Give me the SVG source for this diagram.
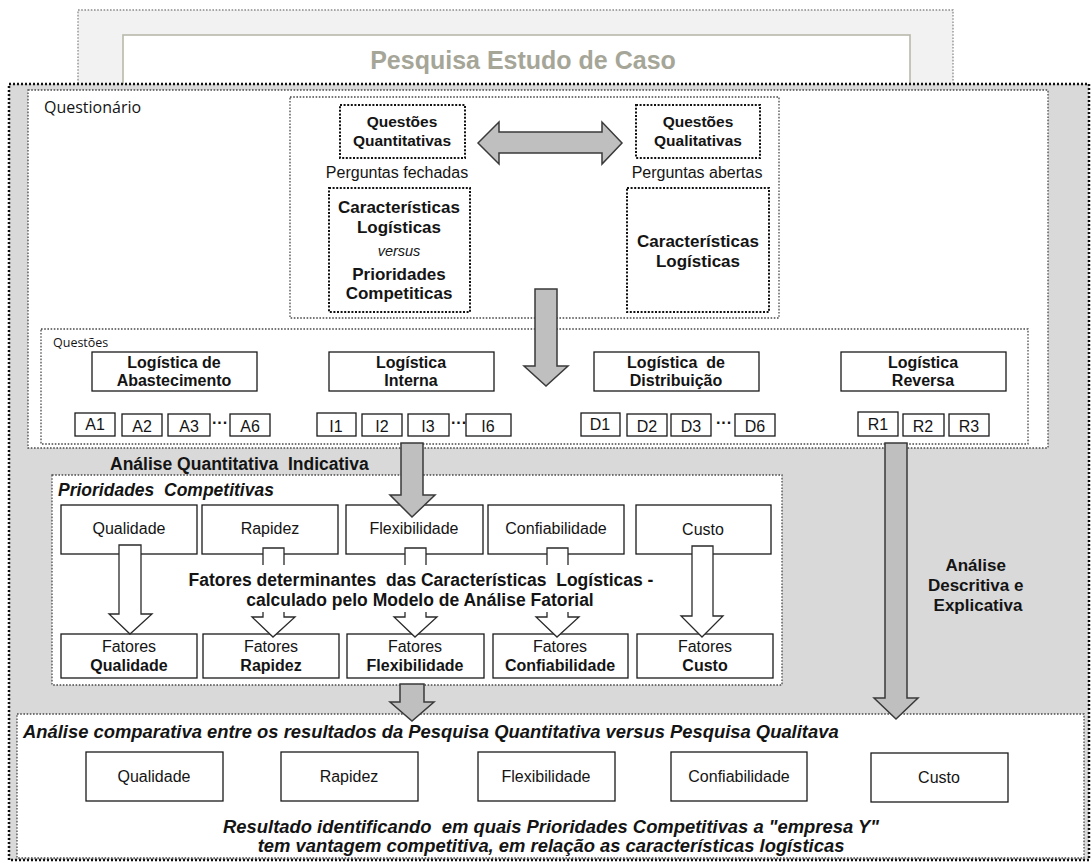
<svg xmlns="http://www.w3.org/2000/svg" width="1091" height="863" viewBox="0 0 1091 863">
  <style>
    .sans { font-family: "Liberation Sans", Arial, sans-serif; fill: #141414; }
    .b { font-weight: bold; }
    .i { font-style: italic; }
    .lbl { font-family: "Open Sans", "Liberation Sans", sans-serif; fill: #141414; }
    .box { fill: #ffffff; stroke: #1a1a1a; stroke-width: 1.3; }
    .dotk { fill: #ffffff; stroke: #111111; stroke-width: 2; stroke-dasharray: 2 1.6; }
    .dotg { fill: #ffffff; stroke: #4a4a4a; stroke-width: 1.3; stroke-dasharray: 1.6 1.6; }
    .garrow { fill: #bfbfbf; stroke: #3a3a3a; stroke-width: 1.5; stroke-linejoin: miter; }
    .warrow { fill: #ffffff; stroke: #2a2a2a; stroke-width: 1.3; }
  </style>

  <!-- title frame -->
  <g id="titulo">
    <rect x="78" y="10" width="875" height="85" fill="#f2f2f2" stroke="#8a8a8a" stroke-width="1.3" stroke-dasharray="1.6 1.6"/>
    <rect x="123" y="35" width="787" height="60" fill="#ffffff" stroke="#b8b8ab" stroke-width="1.6"/>
    <text x="523" y="69" text-anchor="middle" class="sans b" style="fill:#a6a698" font-size="25">Pesquisa Estudo de Caso</text>
  </g>

  <!-- main case-study frame -->
  <rect id="estudo" x="9" y="84" width="1080" height="776" fill="#d9d9d9" stroke="#111111" stroke-width="2.5" stroke-dasharray="2 2"/>

  <!-- questionnaire panel -->
  <g id="questionario">
    <rect x="28" y="90" width="1020" height="358" class="dotg"/>
    <text x="44" y="113" class="lbl" font-size="16">Questionário</text>
    <rect x="290" y="97" width="489" height="221" class="dotg"/>
  </g>

  <g id="quantitativas">
    <rect x="340" y="105" width="125" height="53" class="dotk"/>
    <text x="402" y="127" text-anchor="middle" class="sans b" font-size="15.5">Questões</text>
    <text x="402" y="146" text-anchor="middle" class="sans b" font-size="15.5">Quantitativas</text>
    <text x="397" y="178" text-anchor="middle" class="sans" font-size="16">Perguntas fechadas</text>
  </g>
  <g id="qualitativas">
    <rect x="636" y="105" width="124" height="53" class="dotk"/>
    <text x="698" y="127" text-anchor="middle" class="sans b" font-size="15.5">Questões</text>
    <text x="698" y="146" text-anchor="middle" class="sans b" font-size="15.5">Qualitativas</text>
    <text x="697" y="178" text-anchor="middle" class="sans" font-size="16">Perguntas abertas</text>
  </g>
  <g id="carac-quant">
    <rect x="329" y="188" width="141" height="124" class="dotk"/>
    <text x="399" y="213" text-anchor="middle" class="sans b" font-size="17">Características</text>
    <text x="399" y="233" text-anchor="middle" class="sans b" font-size="17">Logísticas</text>
    <text x="399" y="256" text-anchor="middle" class="sans i" font-size="14.5">versus</text>
    <text x="399" y="280" text-anchor="middle" class="sans b" font-size="17">Prioridades</text>
    <text x="399" y="299" text-anchor="middle" class="sans b" font-size="17">Competiticas</text>
  </g>
  <g id="carac-qual">
    <rect x="627" y="188" width="142" height="124" class="dotk"/>
    <text x="698" y="247" text-anchor="middle" class="sans b" font-size="17">Características</text>
    <text x="698" y="267" text-anchor="middle" class="sans b" font-size="17">Logísticas</text>
  </g>

  <!-- question groups -->
  <g id="questoes">
    <rect x="41" y="329" width="987" height="115" class="dotg"/>
    <text x="53" y="347" class="lbl" font-size="12.5">Questões</text>
  </g>
  <g id="abastecimento" class="sans" font-size="16">
    <rect x="92" y="352" width="165" height="39" class="box"/>
    <text x="174" y="368" text-anchor="middle" class="b">Logística de</text>
    <text x="174" y="386" text-anchor="middle" class="b">Abastecimento</text>
    <rect x="75" y="413" width="40" height="23" class="box"/><text x="95" y="430" text-anchor="middle">A1</text>
    <rect x="122" y="414" width="40" height="22" class="box"/><text x="142" y="432" text-anchor="middle">A2</text>
    <rect x="168" y="414" width="42" height="22" class="box"/><text x="189" y="432" text-anchor="middle">A3</text>
    <text x="220" y="428" text-anchor="middle" class="b">···</text>
    <rect x="230" y="414" width="40" height="22" class="box"/><text x="250" y="432" text-anchor="middle">A6</text>
  </g>
  <g id="interna" class="sans" font-size="16">
    <rect x="329" y="352" width="165" height="39" class="box"/>
    <text x="411" y="368" text-anchor="middle" class="b">Logística</text>
    <text x="411" y="386" text-anchor="middle" class="b">Interna</text>
    <rect x="317" y="413" width="39" height="23" class="box"/><text x="336" y="432" text-anchor="middle">I1</text>
    <rect x="362" y="414" width="40" height="22" class="box"/><text x="382" y="432" text-anchor="middle">I2</text>
    <rect x="408" y="414" width="41" height="22" class="box"/><text x="428" y="432" text-anchor="middle">I3</text>
    <text x="459" y="428" text-anchor="middle" class="b">···</text>
    <rect x="466" y="414" width="45" height="22" class="box"/><text x="488" y="432" text-anchor="middle">I6</text>
  </g>
  <g id="distribuicao" class="sans" font-size="16">
    <rect x="594" y="352" width="165" height="39" class="box"/>
    <text x="676" y="368" text-anchor="middle" class="b" xml:space="preserve">Logística  de</text>
    <text x="676" y="386" text-anchor="middle" class="b">Distribuição</text>
    <rect x="581" y="413" width="39" height="23" class="box"/><text x="600" y="430" text-anchor="middle">D1</text>
    <rect x="627" y="414" width="40" height="22" class="box"/><text x="647" y="432" text-anchor="middle">D2</text>
    <rect x="671" y="414" width="40" height="22" class="box"/><text x="691" y="432" text-anchor="middle">D3</text>
    <text x="724" y="428" text-anchor="middle" class="b">···</text>
    <rect x="735" y="414" width="40" height="22" class="box"/><text x="755" y="432" text-anchor="middle">D6</text>
  </g>
  <g id="reversa" class="sans" font-size="16">
    <rect x="841" y="352" width="165" height="39" class="box"/>
    <text x="923" y="368" text-anchor="middle" class="b">Logística</text>
    <text x="923" y="386" text-anchor="middle" class="b">Reversa</text>
    <rect x="858" y="412" width="40" height="24" class="box"/><text x="878" y="430" text-anchor="middle">R1</text>
    <rect x="903" y="414" width="41" height="22" class="box"/><text x="923" y="432" text-anchor="middle">R2</text>
    <rect x="949" y="414" width="40" height="22" class="box"/><text x="969" y="432" text-anchor="middle">R3</text>
  </g>

  <text id="analise-quant" x="110" y="470" class="sans b" font-size="17.5" xml:space="preserve">Análise Quantitativa  Indicativa</text>

  <!-- competitive priorities -->
  <g id="prioridades">
    <rect x="52" y="475" width="730" height="210" class="dotg"/>
    <text x="58" y="496" class="sans b i" font-size="17.5" xml:space="preserve">Prioridades  Competitivas</text>
  </g>
  <g id="prioridades-topo" class="sans" font-size="16">
    <rect x="61" y="505" width="136" height="49" class="box"/><text x="129" y="534" text-anchor="middle">Qualidade</text>
    <rect x="202" y="505" width="136" height="49" class="box"/><text x="270" y="534" text-anchor="middle">Rapidez</text>
    <rect x="346" y="505" width="137" height="49" class="box"/><text x="414" y="534" text-anchor="middle">Flexibilidade</text>
    <rect x="488" y="505" width="136" height="49" class="box"/><text x="556" y="534" text-anchor="middle">Confiabilidade</text>
    <rect x="636" y="505" width="135" height="49" class="box"/><text x="703" y="535" text-anchor="middle">Custo</text>
  </g>
  <g id="fatores" class="sans" font-size="16">
    <rect x="61" y="634" width="136" height="44" class="box"/>
    <text x="129" y="652" text-anchor="middle">Fatores</text><text x="129" y="671" text-anchor="middle" class="b">Qualidade</text>
    <rect x="203" y="634" width="136" height="44" class="box"/>
    <text x="271" y="652" text-anchor="middle">Fatores</text><text x="271" y="671" text-anchor="middle" class="b">Rapidez</text>
    <rect x="347" y="634" width="137" height="44" class="box"/>
    <text x="415" y="652" text-anchor="middle">Fatores</text><text x="415" y="671" text-anchor="middle" class="b">Flexibilidade</text>
    <rect x="493" y="634" width="135" height="44" class="box"/>
    <text x="560" y="652" text-anchor="middle">Fatores</text><text x="560" y="671" text-anchor="middle" class="b">Confiabilidade</text>
    <rect x="637" y="634" width="136" height="44" class="box"/>
    <text x="705" y="652" text-anchor="middle">Fatores</text><text x="705" y="671" text-anchor="middle" class="b">Custo</text>
  </g>

  <!-- comparative analysis -->
  <g id="comparativa">
    <rect x="17" y="714" width="1067" height="144" class="dotg"/>
    <text x="23" y="738" class="sans b i" font-size="18.4">Análise comparativa entre os resultados da Pesquisa Quantitativa versus Pesquisa Qualitava</text>
    <g class="sans" font-size="16">
      <rect x="86" y="752" width="137" height="49" class="box"/><text x="154" y="782" text-anchor="middle">Qualidade</text>
      <rect x="281" y="752" width="137" height="49" class="box"/><text x="349" y="782" text-anchor="middle">Rapidez</text>
      <rect x="478" y="752" width="137" height="49" class="box"/><text x="546" y="782" text-anchor="middle">Flexibilidade</text>
      <rect x="671" y="752" width="136" height="49" class="box"/><text x="739" y="782" text-anchor="middle">Confiabilidade</text>
      <rect x="871" y="753" width="137" height="49" class="box"/><text x="939" y="783" text-anchor="middle">Custo</text>
    </g>
    <text x="551" y="833" text-anchor="middle" class="sans b i" font-size="18.4" xml:space="preserve">Resultado identificando  em quais Prioridades Competitivas a "empresa Y"</text>
    <text x="551" y="852" text-anchor="middle" class="sans b i" font-size="18.4">tem vantagem competitiva, em relação as características logísticas</text>
  </g>

  <text id="analise-descr" class="sans b" font-size="17" text-anchor="middle">
    <tspan x="978" y="571">Análise</tspan>
    <tspan x="978" y="591">Descritiva e</tspan>
    <tspan x="978" y="611">Explicativa</tspan>
  </text>

  <!-- connectors -->
  <g id="conectores">
    <path class="garrow" d="M478,143 L499,122 L499,132 L602,132 L602,122 L622,143 L602,164 L602,153 L499,153 L499,164 Z"/>
    <path class="garrow" d="M535,289 L557,289 L557,366 L568,366 L546,386 L524,366 L535,366 Z"/>
    <path class="garrow" d="M401,443 L423,443 L423,495 L435,495 L412,517 L390,495 L401,495 Z"/>
    <path class="garrow" d="M885,443 L907,443 L907,698 L918,698 L896,719 L874,698 L885,698 Z"/>
    <path class="garrow" d="M400,684 L424,684 L424,702 L434,702 L412,721 L390,702 L400,702 Z"/>

    <path class="warrow" d="M119,545 L141,545 L141,614 L152,614 L130,634 L109,614 L119,614 Z"/>
    <path class="warrow" d="M692,546 L713,546 L713,616 L723,616 L702,637 L681,616 L692,616 Z"/>
    <path class="warrow" d="M263,548 L284,548 L284,617 L295,617 L273,637 L252,617 L263,617 Z"/>
    <path class="warrow" d="M405,548 L426,548 L426,617 L437,617 L415,637 L394,617 L405,617 Z"/>
    <path class="warrow" d="M547,548 L568,548 L568,617 L579,617 L557,637 L536,617 L547,617 Z"/>
  </g>

  <!-- label crossing the factor arrows -->
  <g id="fatores-determinantes">
    <rect x="186" y="565" width="472" height="47" fill="#ffffff"/>
    <text x="421" y="586" text-anchor="middle" class="sans b" font-size="17.5" xml:space="preserve">Fatores determinantes  das Características  Logísticas -</text>
    <text x="420" y="606" text-anchor="middle" class="sans b" font-size="17.5">calculado pelo Modelo de Análise Fatorial</text>
  </g>
</svg>
